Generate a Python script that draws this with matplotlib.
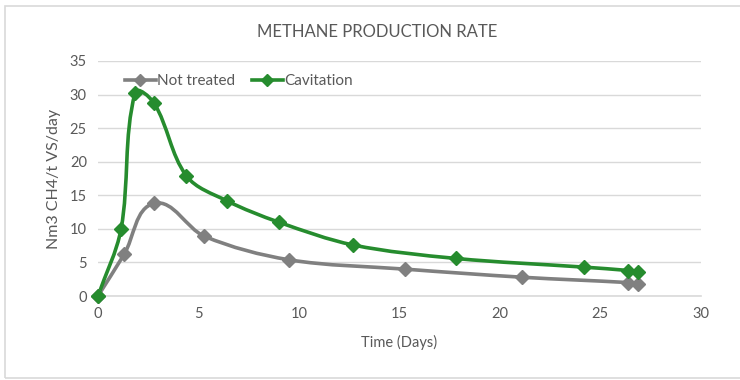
import math
import matplotlib.pyplot as plt
from matplotlib.path import Path
from matplotlib.patches import PathPatch, Rectangle
from matplotlib.lines import Line2D

# Methane production rate, Nm3 CH4 / t VS / day
dias_nt = [0, 1.3, 2.8, 5.3, 9.5, 15.3, 21.1, 26.4, 26.9]
metano_nt = [0, 6.2, 13.8, 8.9, 5.4, 4.0, 2.8, 2.0, 1.8]

dias_cav = [0, 1.15, 1.85, 2.8, 4.4, 6.4, 9.0, 12.7, 17.8, 24.2, 26.4, 26.9]
metano_cav = [0, 10.0, 30.3, 28.7, 17.9, 14.2, 11.0, 7.6, 5.6, 4.3, 3.8, 3.6]

gris = "#808080"
verde = "#268c2e"
texto = "#595959"
plt.rcParams['font.family'] = ['Lato', 'DejaVu Sans']

# escala aproximada de pixeles por unidad (para suavizar en espacio de pantalla)
SX = 603 / 30
SY = 235 / 35


def curva_suave(ax, xs, ys, color):
    # linea suavizada: bezier cubica, tangente limitada por la longitud del tramo
    pts = [(x * SX, y * SY) for x, y in zip(xs, ys)]
    n = len(pts)

    def tangente(i):
        a = pts[max(i - 1, 0)]
        b = pts[min(i + 1, n - 1)]
        dx, dy = b[0] - a[0], b[1] - a[1]
        d = math.hypot(dx, dy) or 1
        return dx / d, dy / d

    verts = [pts[0]]
    codes = [Path.MOVETO]
    for i in range(n - 1):
        p1, p2 = pts[i], pts[i + 1]
        L = math.hypot(p2[0] - p1[0], p2[1] - p1[1]) / 3
        t1, t2 = tangente(i), tangente(i + 1)
        c1 = (p1[0] + t1[0] * L, p1[1] + t1[1] * L)
        c2 = (p2[0] - t2[0] * L, p2[1] - t2[1] * L)
        verts += [c1, c2, p2]
        codes += [Path.CURVE4] * 3
    verts = [(x / SX, y / SY) for x, y in verts]
    ax.add_patch(PathPatch(Path(verts, codes), facecolor="none", edgecolor=color,
                           lw=2.6, capstyle="round", joinstyle="round", zorder=3,
                           clip_on=False))


fig = plt.figure(figsize=(7.4, 3.8), dpi=100)
ax = fig.add_axes([0.1324, 0.221, 0.8146, 0.6185])

# marco del grafico
fig.patches.append(Rectangle((5 / 740, 2 / 380), 1.2, 372 / 380, transform=fig.transFigure,
                             facecolor="none", edgecolor="#d9d9d9", lw=1.2))

curva_suave(ax, dias_nt, metano_nt, gris)
curva_suave(ax, dias_cav, metano_cav, verde)
ax.plot(dias_nt, metano_nt, ls="none", marker="D", ms=7, color=gris, zorder=4, clip_on=False)
ax.plot(dias_cav, metano_cav, ls="none", marker="D", ms=7, color=verde, zorder=5, clip_on=False)

ax.set_xlim(0, 30)
ax.set_ylim(0, 35)
ax.set_xticks(range(0, 31, 5))
ax.set_yticks(range(0, 36, 5))
ax.grid(axis="y", color="#d9d9d9", lw=1)
ax.set_axisbelow(True)
for s in ["top", "right", "left"]:
    ax.spines[s].set_visible(False)
ax.spines["bottom"].set_color("#d9d9d9")
ax.spines["bottom"].set_linewidth(1.2)
ax.tick_params(length=0, labelsize=10.5, labelcolor=texto, pad=8)

ax.set_xlabel("Time (Days)", fontsize=10.5, color=texto, labelpad=10)
ax.set_ylabel("Nm3 CH4/t VS/day", fontsize=11.5, color=texto, labelpad=6)
fig.text(0.51, 0.915, "METHANE PRODUCTION RATE", ha="center", va="center",
         fontsize=12, color=texto)

h = [Line2D([], [], color=gris, lw=2.6, marker="D", ms=6),
     Line2D([], [], color=verde, lw=2.6, marker="D", ms=6)]
ax.legend(h, ["Not treated", "Cavitation"], loc="upper left", ncol=2, frameon=False,
          fontsize=11, labelcolor=texto, handlelength=2.0, handletextpad=0.1,
          columnspacing=1.1, bbox_to_anchor=(0.035, 0.97), borderaxespad=0)

fig.savefig("out.png", dpi=100)
